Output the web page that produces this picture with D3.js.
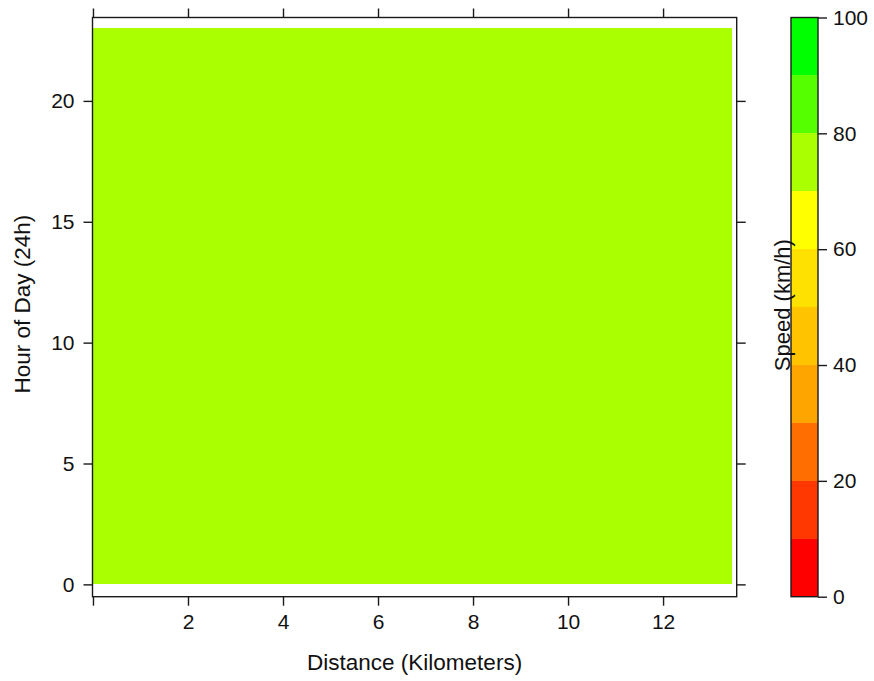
<!DOCTYPE html>
<html>
<head>
<meta charset="utf-8">
<script src="https://cdn.jsdelivr.net/npm/d3@7"></script>
<style>
  html, body { margin: 0; padding: 0; background: #fff; }
  svg { display: block; }
  text { font-family: "Liberation Sans", Arial, sans-serif; fill: #111; }
</style>
</head>
<body>
<svg id="chart" width="874" height="681"></svg>
<script>
// Route sampled along its length (km) and across the day (h)
const distanceExtentKm = [0, 13.45];
const hourOfDay = [0, 1, 2, 3, 4, 5, 6, 7, 8, 9, 10, 11, 12, 13, 14, 15, 16, 17, 18, 19, 20, 21, 22, 23];
// Mean speed (km/h) observed at each hour
const speedKmh = [75, 75, 75, 75, 75, 75, 75, 75, 75, 75, 75, 75, 75, 75, 75, 75, 75, 75, 75, 75, 75, 75, 75, 75];

// Speed classes for the colour key
const speedBreaks = [0, 10, 20, 30, 40, 50, 60, 70, 80, 90, 100];
const speedColors = ["#FF0000", "#FF3700", "#FF6E00", "#FFA500", "#FFC300", "#FFE100",
                     "#FFFF00", "#AAFF00", "#55FF00", "#00FF00"];

const xTicks = [0, 2, 4, 6, 8, 10, 12];
const xTickLabels = ["", "2", "4", "6", "8", "10", "12"];
const yTicks = [0, 5, 10, 15, 20];
const keyTicks = [0, 20, 40, 60, 80, 100];

const svg = d3.select("#chart");
const panel = { left: 92.5, right: 736.7, top: 17.5, bottom: 596.7 };
const key = { left: 791, right: 818 };
const tick = 9;
const ink = "#1a1a1a";

const x = d3.scaleLinear().domain([-0.01, 13.55]).range([panel.left, panel.right]);
const y = d3.scaleLinear().domain([-0.51, 23.45]).range([panel.bottom, panel.top]);
const colorOf = d3.scaleThreshold().domain(speedBreaks.slice(1, -1)).range(speedColors);

// Filled level bands between successive hours
const bands = d3.pairs(hourOfDay.map((h, i) => ({ h, v: speedKmh[i] })));
svg.append("g")
  .selectAll("rect")
  .data(bands)
  .join("rect")
  .attr("x", x(distanceExtentKm[0]))
  .attr("width", x(distanceExtentKm[1]) - x(distanceExtentKm[0]))
  .attr("y", d => y(d[1].h))
  .attr("height", d => y(d[0].h) - y(d[1].h))
  .attr("fill", d => colorOf((d[0].v + d[1].v) / 2))
  .attr("shape-rendering", "crispEdges");

// Panel frame
svg.append("rect")
  .attr("x", panel.left).attr("y", panel.top)
  .attr("width", panel.right - panel.left).attr("height", panel.bottom - panel.top)
  .attr("fill", "none").attr("stroke", ink).attr("stroke-width", 1.4);

function styleAxis(g) {
  g.select(".domain").remove();
  g.selectAll(".tick line").attr("stroke", ink).attr("stroke-width", 1.4);
  g.selectAll(".tick text")
    .style("font-size", "21px")
    .style("font-family", "'Liberation Sans', Arial, sans-serif")
    .attr("fill", "#111");
}

svg.append("g")
  .attr("transform", `translate(0,${panel.bottom})`)
  .call(d3.axisBottom(x).tickValues(xTicks).tickSize(tick).tickPadding(8)
    .tickFormat((d, i) => xTickLabels[i]))
  .call(styleAxis);
svg.append("g")
  .attr("transform", `translate(0,${panel.top})`)
  .call(d3.axisTop(x).tickValues(xTicks).tickSize(tick).tickFormat(""))
  .call(styleAxis);
svg.append("g")
  .attr("transform", `translate(${panel.left},0)`)
  .call(d3.axisLeft(y).tickValues(yTicks).tickSize(tick).tickPadding(9)
    .tickFormat(d3.format("d")))
  .call(styleAxis);
svg.append("g")
  .attr("transform", `translate(${panel.right},0)`)
  .call(d3.axisRight(y).tickValues(yTicks).tickSize(tick).tickFormat(""))
  .call(styleAxis);

// Axis titles
svg.append("text")
  .attr("x", (panel.left + panel.right) / 2).attr("y", 670)
  .attr("text-anchor", "middle").style("font-size", "22.5px")
  .text("Distance (Kilometers)");
svg.append("text")
  .attr("transform", `translate(30,${(panel.top + panel.bottom) / 2 - 3}) rotate(-90)`)
  .attr("text-anchor", "middle").style("font-size", "22.5px")
  .text("Hour of Day (24h)");

// Colour key
const k = d3.scaleLinear().domain([0, 100]).range([panel.bottom, panel.top]);
const keyCells = d3.pairs(speedBreaks).map((b, i) => ({ lo: b[0], hi: b[1], c: speedColors[i] }));
svg.append("g")
  .selectAll("rect")
  .data(keyCells)
  .join("rect")
  .attr("x", key.left).attr("width", key.right - key.left)
  .attr("y", d => k(d.hi)).attr("height", d => k(d.lo) - k(d.hi))
  .attr("fill", d => d.c)
  .attr("shape-rendering", "crispEdges");
svg.append("rect")
  .attr("x", key.left).attr("y", panel.top)
  .attr("width", key.right - key.left).attr("height", panel.bottom - panel.top)
  .attr("fill", "none").attr("stroke", ink).attr("stroke-width", 1.4);
svg.append("g")
  .attr("transform", `translate(${key.right},0)`)
  .call(d3.axisRight(k).tickValues(keyTicks).tickSize(tick).tickPadding(6)
    .tickFormat(d3.format("d")))
  .call(styleAxis);

svg.append("text")
  .attr("transform", `translate(790,${(panel.top + panel.bottom) / 2 - 2}) rotate(-90)`)
  .attr("text-anchor", "middle").style("font-size", "22px")
  .text("Speed (km/h)");
</script>
</body>
</html>
